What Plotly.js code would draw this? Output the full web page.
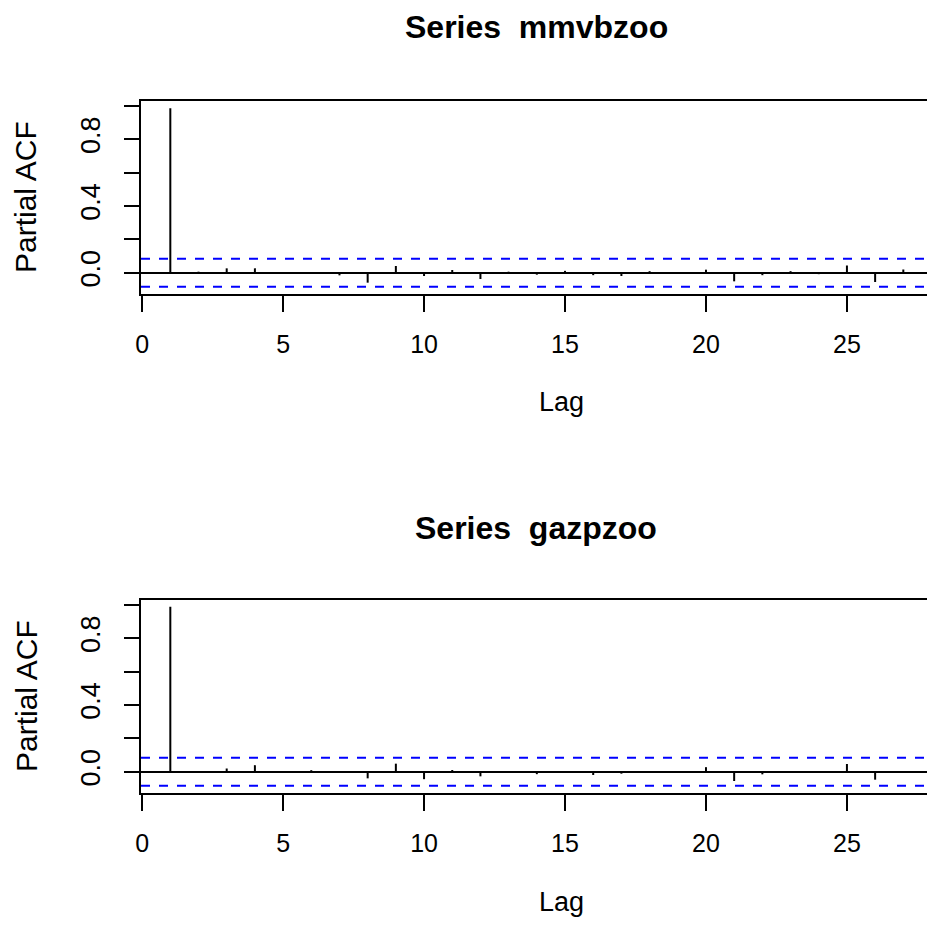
<!DOCTYPE html>
<html>
<head>
<meta charset="utf-8">
<script src="https://cdn.plot.ly/plotly-3.0.1.min.js"></script>
<style>html,body{margin:0;padding:0;background:#fff;}#chart{width:927px;height:928px;}</style>
</head>
<body>
<div id="chart"></div>
<script>
// ---- data ----
const lags = [1,2,3,4,5,6,7,8,9,10,11,12,13,14,15,16,17,18,19,20,21,22,23,24,25,26,27];
const pacfMmvb = [0.986,0.006,0.026,0.026,0.004,0.004,-0.016,-0.060,0.040,-0.020,0.016,-0.038,0.006,-0.012,0.011,-0.015,-0.020,0.009,0.002,0.018,-0.052,-0.015,0.009,-0.009,0.043,-0.056,0.019];
const pacfGazp = [0.990,-0.006,0.019,0.039,0.002,0.009,-0.003,-0.040,0.048,-0.045,0.010,-0.028,0.004,-0.015,-0.003,-0.020,-0.012,-0.008,0.002,0.027,-0.056,-0.016,-0.008,-0.006,0.046,-0.048,0.004];
const climMmvb = 0.084;
const climGazp = 0.084;
const seriesTitles = ["Series\u00A0\u00A0mmvbzoo", "Series\u00A0\u00A0gazpzoo"];
const xTickVals = [0,5,10,15,20,25];
const xTickText = ["0","5","10","15","20","25"];
const yTickVals = [0,0.2,0.4,0.6,0.8,1.0];
const yTickText = ["0.0","","0.4","","0.8",""];
const xLabel = "Lag";
const yLabel = "Partial ACF";

// ---- build spike traces (type = "h") ----
function spikes(vals){
  const x=[], y=[];
  lags.forEach((l,i)=>{ x.push(l,l,null); y.push(0,vals[i],null); });
  return {x, y};
}
const s1 = spikes(pacfMmvb), s2 = spikes(pacfGazp);
const traces = [
  {x:s1.x, y:s1.y, xaxis:'x', yaxis:'y', type:'scatter', mode:'lines', line:{color:'#000', width:2}, hoverinfo:'skip'},
  {x:s2.x, y:s2.y, xaxis:'x2', yaxis:'y2', type:'scatter', mode:'lines', line:{color:'#000', width:2}, hoverinfo:'skip'}
];

const W = 927, H = 928;
const fam = "Liberation Sans, Arial, Helvetica, sans-serif";
function px(x){return x/W;}
function py(y){return 1 - y/H;}

function xax(anchor, dom){
  return {domain:dom, anchor:anchor, range:[-0.04,27.84], showline:true, mirror:true,
    linecolor:'#000', linewidth:2, ticks:'outside', ticklen:16, tickwidth:2, tickcolor:'#000',
    tickmode:'array', tickvals:xTickVals, ticktext:xTickText, tickfont:{size:25,color:'#000',family:fam},
    showgrid:false, zeroline:false, ticklabelstandoff:11, fixedrange:true};
}
function yax(anchor, dom){
  return {domain:dom, anchor:anchor, range:[-0.128,1.032], showline:true, mirror:false,
    linecolor:'#000', linewidth:2, ticks:'outside', ticklen:15, tickwidth:2, tickcolor:'#000',
    tickmode:'array', tickvals:yTickVals, ticktext:yTickText, tickangle:-90,
    tickfont:{size:27,color:'#000',family:fam},
    showgrid:false, zeroline:true, zerolinecolor:'#000', zerolinewidth:2, ticklabelstandoff:13, fixedrange:true};
}

const xd = [px(141), 1];
const layout = {
  width:W, height:H, margin:{l:0,r:0,t:0,b:0},
  paper_bgcolor:'#fff', plot_bgcolor:'#fff', showlegend:false,
  font:{family:fam, color:'#000'},
  xaxis: xax('y', xd),
  yaxis: yax('x', [py(294), py(100.7)]),
  xaxis2: xax('y2', xd),
  yaxis2: yax('x2', [py(793), py(599.7)]),
  shapes: [
    {type:'line', xref:'x domain', yref:'y', x0:0, x1:1, y0:climMmvb, y1:climMmvb, line:{color:'#0000FF', width:2, dash:'9px,9px'}},
    {type:'line', xref:'x domain', yref:'y', x0:0, x1:1, y0:-climMmvb, y1:-climMmvb, line:{color:'#0000FF', width:2, dash:'9px,9px'}},
    {type:'line', xref:'x2 domain', yref:'y2', x0:0, x1:1, y0:climGazp, y1:climGazp, line:{color:'#0000FF', width:2, dash:'9px,9px'}},
    {type:'line', xref:'x2 domain', yref:'y2', x0:0, x1:1, y0:-climGazp, y1:-climGazp, line:{color:'#0000FF', width:2, dash:'9px,9px'}}
  ],
  annotations: [
    {text:'<b>'+seriesTitles[0]+'</b>', xref:'paper', yref:'paper', x:px(536), y:py(27), xanchor:'center', yanchor:'middle', showarrow:false, font:{size:32,family:fam,color:'#000'}},
    {text:'<b>'+seriesTitles[1]+'</b>', xref:'paper', yref:'paper', x:px(536), y:py(528), xanchor:'center', yanchor:'middle', showarrow:false, font:{size:32,family:fam,color:'#000'}},
    {text:xLabel, xref:'paper', yref:'paper', x:px(561), y:py(402), xanchor:'center', yanchor:'middle', showarrow:false, font:{size:27,family:fam,color:'#000'}},
    {text:xLabel, xref:'paper', yref:'paper', x:px(561), y:py(902), xanchor:'center', yanchor:'middle', showarrow:false, font:{size:27,family:fam,color:'#000'}},
    {text:yLabel, xref:'paper', yref:'paper', x:px(26), y:py(197), xanchor:'center', yanchor:'middle', textangle:-90, showarrow:false, font:{size:30,family:fam,color:'#000'}},
    {text:yLabel, xref:'paper', yref:'paper', x:px(26), y:py(696), xanchor:'center', yanchor:'middle', textangle:-90, showarrow:false, font:{size:30,family:fam,color:'#000'}}
  ]
};

Plotly.newPlot('chart', traces, layout, {staticPlot:true, displayModeBar:false});
</script>
</body>
</html>
